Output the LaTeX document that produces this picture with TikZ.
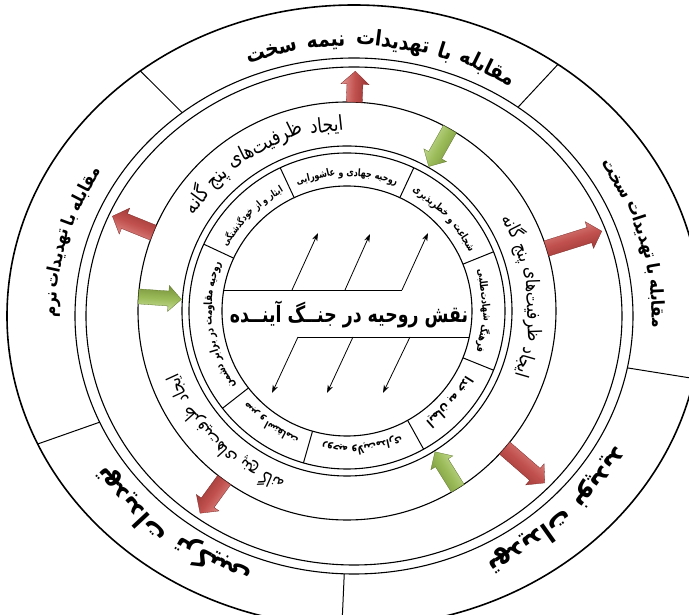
\documentclass[tikz,border=0pt]{standalone}
\usepackage{fontspec}
\newfontfamily\fa[Script=Arabic]{DejaVu Sans}
\TeXXeTstate=1
\usetikzlibrary{arrows.meta}
\definecolor{redA}{RGB}{192,80,77}
\definecolor{redL}{RGB}{228,150,147}
\definecolor{redD}{RGB}{150,52,50}
\definecolor{grnA}{RGB}{155,187,89}
\definecolor{grnL}{RGB}{205,226,160}
\definecolor{grnD}{RGB}{118,146,58}
\newlength\arcwd
\newlength\arctot
\newlength\arcsp
% measure words (at 10pt) outside the picture
\newcommand\arcmeasure[3]{%
  \gdef\arcnum{0}%
  \global\arctot=0pt
  \foreach \w [count=\k] in #3 {%
    \settowidth{\arcwd}{#2\fontsize{10pt}{10pt}\selectfont\beginR\w\endR}%
    \expandafter\xdef\csname mw@#1@\k\endcsname{\the\arcwd}%
    \global\advance\arctot by \arcwd
    \xdef\arcnum{\k}%
  }%
  \settowidth{\arcsp}{#2\fontsize{10pt}{10pt}\selectfont\ }%
  \expandafter\xdef\csname ms@#1\endcsname{\the\arcsp}%
  \global\advance\arctot by \arcnum\arcsp
  \global\advance\arctot by -\arcsp
  \expandafter\xdef\csname mt@#1\endcsname{\the\arctot}%
}
% place words along an arc, tops outward, first word at the clockwise end
% #1 id, #2 node prefix, #3 centre angle, #4 font size, #5 a, #6 b, #7 font, #8 list
\newcommand\arcput[8]{%
  \pgfmathsetmacro\arcR{(#5+#6)/2}%
  \edef\arcT{\csname mt@#1\endcsname}%
  \edef\arcS{\csname ms@#1\endcsname}%
  \pgfmathsetmacro\arcstart{#3-(\arcT)*#4/10/2/\arcR*180/pi}%
  \xdef\arccur{\arcstart}%
  \foreach \w [count=\k] in #8 {%
    \edef\arcW{\csname mw@#1@\k\endcsname}%
    \pgfmathsetmacro\arcwa{(\arcW)*#4/10/\arcR*180/pi}%
    \pgfmathsetmacro\arcsa{(\arcS)*#4/10/\arcR*180/pi}%
    \pgfmathsetmacro\arcmid{\arccur+\arcwa/2}%
    \node[anchor=base,inner sep=0pt,rotate=\arcmid-90,every arc word] (#2-\k) at (\arcmid:#5pt and #6pt) {#7\fontsize{#4pt}{#4pt}\selectfont\beginR\w\endR};
    \pgfmathsetmacro\arcnext{\arccur+\arcwa+\arcsa}%
    \xdef\arccur{\arcnext}%
  }%
}
% same, with the font size chosen so that the text spans #4 degrees
\newcommand\arcfit[8]{%
  \edef\arcT{\csname mt@#1\endcsname}%
  \pgfmathsetmacro\arcfs{10*(#4*pi/180*(#5+#6)/2)/(\arcT)}%
  \edef\arcdo{\noexpand\arcput{#1}{#2}{#3}{\arcfs}{#5}{#6}}%
  \arcdo{#7}{#8}%
}
% block arrow: #1 angle, #2 tail radius, #3 tip radius, #4 light, #5 mid, #6 dark, #7 shaft half, #8 head half
\newcommand\barrow[8]{%
  \pgfmathsetmacro\hb{#3-13*sign(#3-#2)}%
  \begin{scope}[rotate=#1]
    \path[draw=#6!80!black,line width=0.3pt,top color=#4,bottom color=#6,middle color=#5,shading angle=#1]
      (#2,-#7) -- (\hb,-#7) -- (\hb,-#8) -- (#3,0) -- (\hb,#8) -- (\hb,#7) -- (#2,#7) -- cycle;
  \end{scope}}
\def\Totop{مقابله,با,تهدیدات,نیمه,سخت}
\def\Toright{مقابله,با,تهدیدات,سخت}
\def\Toleft{مقابله,با,تهدیدات,نرم}
\def\Tobl{تهدیدات,ترکیبی}
\def\Tobr{تهدیدات,نوپدید}
\def\Tmid{ایجاد,ظرفیت‌های,پنج,گانه}
\def\TsA{روحیه,جهادی,و,عاشورایی}
\def\TsB{شجاعت,و,خطرپذیری}
\def\TsC{فرهنگ,شهادت‌طلبی}
\def\TsD{ایمان,به,خدا}
\def\TsE{روحیه,ولایت‌مداری}
\def\TsF{صبر,و,استقامت}
\def\TsG{روحیه,مقاومت,در,برابر,دشمن}
\def\TsH{ایثار,و,از,خودگذشتگی}
\begin{document}%
\arcmeasure{otop}{\fa\bfseries}{\Totop}%
\arcmeasure{oright}{\fa\bfseries}{\Toright}%
\arcmeasure{oleft}{\fa\bfseries}{\Toleft}%
\arcmeasure{obl}{\fa\bfseries}{\Tobl}%
\arcmeasure{obr}{\fa\bfseries}{\Tobr}%
\arcmeasure{mid}{\fa}{\Tmid}%
\arcmeasure{sA}{\fa\bfseries}{\TsA}%
\arcmeasure{sB}{\fa\bfseries}{\TsB}%
\arcmeasure{sC}{\fa\bfseries}{\TsC}%
\arcmeasure{sD}{\fa\bfseries}{\TsD}%
\arcmeasure{sE}{\fa\bfseries}{\TsE}%
\arcmeasure{sF}{\fa\bfseries}{\TsF}%
\arcmeasure{sG}{\fa\bfseries}{\TsG}%
\arcmeasure{sH}{\fa\bfseries}{\TsH}%
\begin{tikzpicture}[x=1pt,y=1pt,
  every arc word/.style={},
  ring/.style={draw=black,line width=1.1pt},
  divline/.style={draw=black,line width=1pt},
  fish/.style={draw=black,line width=0.8pt},
  fisharrow/.style={fish,-{Stealth[length=8pt,width=5.5pt]}}]
\useasboundingbox (-347,-304) rectangle (342,311);
% ---------- outer ring ----------
\begin{scope}[shift={(7,-5)},every arc word/.style={yscale=1.15}]
  \draw[line width=1.6pt] (0,0) ellipse [x radius=347pt,y radius=311pt];
  \draw[ring] (0,0) ellipse [x radius=279pt,y radius=258pt];
  \draw[ring] (0,0) ellipse [x radius=268pt,y radius=249pt];
  \foreach \a in {128,54,-11.6,268,204.3}{\draw[divline] (\a:279pt and 258pt) -- (\a:347pt and 311pt);}
  \arcfit{otop}{otop}{84.5}{53}{298}{270}{\fa\bfseries}{\Totop}
  \arcfit{oright}{oright}{16}{36.5}{298}{270}{\fa\bfseries}{\Toright}
  \arcfit{oleft}{oleft}{164}{32.5}{298}{270}{\fa\bfseries}{\Toleft}
  \arcfit{obl}{obl}{232}{37}{298}{270}{\fa\bfseries}{\Tobl}
  \arcfit{obr}{obr}{-46.5}{35.6}{298}{270}{\fa\bfseries}{\Tobr}
\end{scope}
% ---------- middle and inner rings ----------
\draw[ring] (0,0) circle [radius=209pt];
\draw[ring] (0,0) circle [radius=165pt];
\draw[ring] (0,0) circle [radius=158pt];
\draw[ring] (0,0) circle [radius=125pt];
\foreach \a in {115,65,22,-22,-61,-106,-142,155}{\draw[divline] (\a:125pt) -- (\a:158pt);}
\begin{scope}[every arc word/.style={yscale=1.2}]
\arcfit{mid}{mtop}{119.5}{57}{180}{180}{\fa}{\Tmid}
\arcfit{mid}{mright}{5}{52}{180}{180}{\fa}{\Tmid}
\arcfit{mid}{mbl}{225}{50}{180}{180}{\fa}{\Tmid}
\end{scope}
% inner ring labels
\begin{scope}[every arc word/.style={yscale=1.3}]
\arcfit{sA}{sA}{90}{43}{135}{135}{\fa\bfseries}{\TsA}
\arcfit{sB}{sB}{43.5}{36}{135}{135}{\fa\bfseries}{\TsB}
\arcfit{sC}{sC}{0}{35}{135}{135}{\fa\bfseries}{\TsC}
\arcfit{sD}{sD}{-41.5}{26}{135}{135}{\fa\bfseries}{\TsD}
\arcfit{sE}{sE}{-83.5}{34}{135}{135}{\fa\bfseries}{\TsE}
\arcfit{sF}{sF}{-124}{27}{135}{135}{\fa\bfseries}{\TsF}
\arcfit{sG}{sG}{186.5}{55}{135}{135}{\fa\bfseries}{\TsG}
\arcfit{sH}{sH}{135}{34}{135}{135}{\fa\bfseries}{\TsH}
\end{scope}
% ---------- block arrows ----------
\barrow{88}{209}{240}{redL}{redA}{redD}{8}{14}
\barrow{158}{209}{253}{redL}{redA}{redD}{8}{14}
\barrow{17.4}{209}{267}{redL}{redA}{redD}{8}{14}
\barrow{-41}{209}{262}{redL}{redA}{redD}{8}{14}
\barrow{234}{209}{250}{redL}{redA}{redD}{8}{14}
\barrow{60.5}{209}{166}{grnL}{grnA}{grnD}{7.5}{13}
\barrow{176}{209}{166}{grnL}{grnA}{grnD}{7.5}{13}
\barrow{-58}{209}{166}{grnL}{grnA}{grnD}{7.5}{13}
% ---------- centre: fishbone ----------
\coordinate (u0) at (-123.2,21);
\coordinate (u1) at (-55,21);
\coordinate (u2) at (-2,21);
\coordinate (u3) at (55,21);
\coordinate (t1) at (-29,78);
\coordinate (t2) at (23,77);
\coordinate (t3) at (81,78);
\coordinate (l1) at (-49,-26);
\coordinate (l2) at (6,-26);
\coordinate (l3) at (63,-26);
\coordinate (l4) at (122.3,-26);
\coordinate (b1) at (-75,-82);
\coordinate (b2) at (-20,-82);
\coordinate (b3) at (36,-82);
\draw[fish] (u0) -- (u3);
\draw[fish] (l1) -- (l4);
\draw[fisharrow] (u1) -- (t1);
\draw[fisharrow] (u2) -- (t2);
\draw[fisharrow] (u3) -- (t3);
\draw[fisharrow] (l1) -- (b1);
\draw[fisharrow] (l2) -- (b2);
\draw[fisharrow] (l3) -- (b3);
\node[inner sep=0pt] (title) at (2,-3) {\scalebox{1}[1.3]{\resizebox{238pt}{!}{\fa\bfseries\beginR نقش روحیه در جنــگ آینــده\endR}}};
\end{tikzpicture}%
\end{document}
